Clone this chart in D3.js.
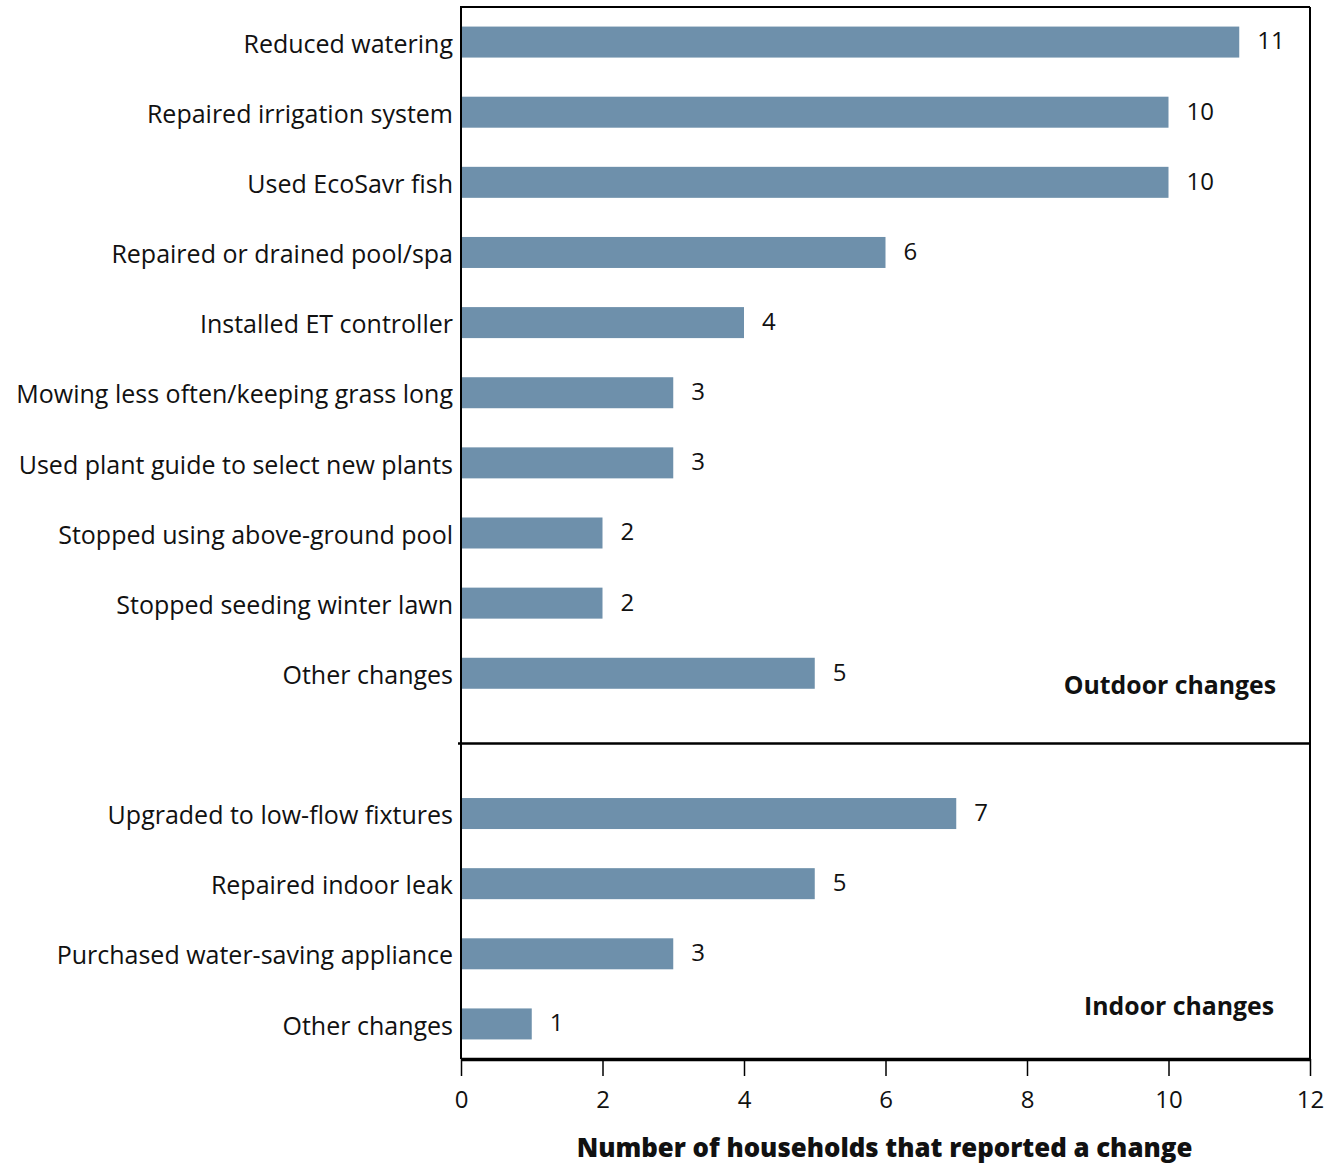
<!DOCTYPE html>
<html><head><meta charset="utf-8">
<script src="https://cdn.jsdelivr.net/npm/d3@7"></script>
<style>body{margin:0;background:#fff}</style>
</head><body>
<script>
const outdoorCategories = ["Reduced watering","Repaired irrigation system","Used EcoSavr fish","Repaired or drained pool/spa","Installed ET controller","Mowing less often/keeping grass long","Used plant guide to select new plants","Stopped using above-ground pool","Stopped seeding winter lawn","Other changes"];
const outdoorValues = [11,10,10,6,4,3,3,2,2,5];
const indoorCategories = ["Upgraded to low-flow fixtures","Repaired indoor leak","Purchased water-saving appliance","Other changes"];
const indoorValues = [7,5,3,1];
const xTicks = [0,2,4,6,8,10,12];
const groupLabels = ["Outdoor changes","Indoor changes"];
const axisTitle = "Number of households that reported a change";

(function(){
const W = 1330, H = 1164;
const mL = 461, mR = 1310, mT = 7, mB = 1059;
const font = "'Open Sans', sans-serif";

const rows = [];
outdoorCategories.forEach((c,i)=>rows.push({key:"o"+i,label:c,value:outdoorValues[i]}));
const gapKey = "gap";
const keys = rows.map(r=>r.key).concat([gapKey]);
indoorCategories.forEach((c,i)=>{rows.push({key:"i"+i,label:c,value:indoorValues[i]}); keys.push("i"+i);});

const svg = d3.select("body").append("svg").attr("width",W).attr("height",H);
const x = d3.scaleLinear().domain([0,12]).range([mL,mR]);
const y = d3.scaleBand().domain(keys).range([mT,mB]).paddingInner(0.56).paddingOuter(0.28);
const cy = k => y(k)+y.bandwidth()/2;

svg.selectAll("rect.bar").data(rows).join("rect")
  .attr("x",x(0)+1).attr("y",d=>cy(d.key)-15.5)
  .attr("width",d=>x(d.value)-x(0)-1).attr("height",31)
  .attr("fill","#6e90ab");

svg.selectAll("text.val").data(rows).join("text")
  .attr("x",d=>x(d.value)+18).attr("y",d=>cy(d.key)+1)
  .attr("dominant-baseline","middle")
  .style("font-family",font).style("font-size","24px").attr("fill","#111")
  .text(d=>d.value);

svg.selectAll("text.cat").data(rows).join("text")
  .attr("x",mL-8).attr("y",d=>cy(d.key)+4)
  .attr("text-anchor","end").attr("dominant-baseline","middle")
  .style("font-family",font).style("font-size","25px").attr("fill","#111")
  .text(d=>d.label);

const divY = cy(gapKey);
svg.append("line").attr("x1",mL).attr("x2",mR).attr("y1",mT).attr("y2",mT).attr("stroke","#000").attr("stroke-width",2);
svg.append("line").attr("x1",mR).attr("x2",mR).attr("y1",mT).attr("y2",mB).attr("stroke","#000").attr("stroke-width",2);
svg.append("line").attr("x1",mL).attr("x2",mL).attr("y1",mT-1).attr("y2",mB).attr("stroke","#000").attr("stroke-width",2);
svg.append("line").attr("x1",mL-3).attr("x2",mR).attr("y1",divY).attr("y2",divY).attr("stroke","#000").attr("stroke-width",2.5);

const ax = svg.append("g").attr("transform",`translate(0,${mB})`)
  .call(d3.axisBottom(x).tickValues(xTicks).tickSize(17).tickSizeOuter(0).tickPadding(15));
ax.select(".domain").attr("stroke","#000").attr("stroke-width",3.5);
ax.selectAll(".tick line").attr("stroke","#000").attr("stroke-width",1.5);
ax.selectAll(".tick text").style("font-family",font).style("font-size","24px").attr("fill","#111");

svg.append("text").attr("x",(mL+mR)/2-1).attr("y",1150).attr("text-anchor","middle")
  .attr("dominant-baseline","middle")
  .style("font-family",font).style("font-size","25.8px").style("font-weight","800").attr("fill","#111")
  .text(axisTitle);

svg.append("text").attr("x",1276).attr("y",cy("o9")+14).attr("text-anchor","end")
  .attr("dominant-baseline","middle")
  .style("font-family",font).style("font-size","24.8px").style("font-weight","700").attr("fill","#111")
  .text(groupLabels[0]);
svg.append("text").attr("x",1274).attr("y",cy("i3")-16).attr("text-anchor","end")
  .attr("dominant-baseline","middle")
  .style("font-family",font).style("font-size","24.8px").style("font-weight","700").attr("fill","#111")
  .text(groupLabels[1]);
})();
</script>
</body></html>
